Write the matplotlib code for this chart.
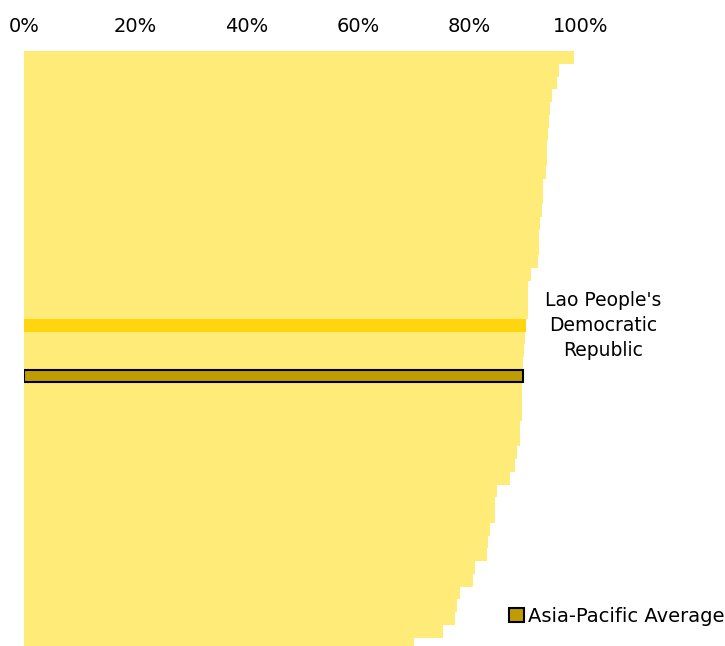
import matplotlib.pyplot as plt
from matplotlib.patches import Patch

# share per economy (%), sorted high to low, Asia-Pacific average included
shares = [98.8, 96.1, 95.7, 94.8, 94.6, 94.3, 94.1, 94.0, 94.0, 93.8,
          93.3, 93.2, 93.1, 92.7, 92.6, 92.5, 92.4, 91.1, 90.6, 90.6,
          90.5, 90.2, 90.0, 89.8, 89.7, 89.6, 89.5, 89.4, 89.4, 89.2,
          89.2, 88.5, 88.2, 87.3, 85.0, 84.7, 84.6, 83.8, 83.3, 83.1,
          81.0, 80.7, 78.3, 77.7, 77.5, 75.2, 70.0]
lao_idx = 21
avg_idx = 25
lao_label = "Lao People's\nDemocratic\nRepublic"
avg_label = "Asia-Pacific Average"
xticks = [0, 20, 40, 60, 80, 100]

base_col = '#FFEC78'
lao_col = '#FFD50F'
avg_col = '#BF9C00'

plt.rcParams['font.family'] = ['DejaVu Sans']

fig = plt.figure(figsize=(7.25, 6.46), dpi=100)
ax = fig.add_axes([24.5 / 725, 0, 556 / 725, 595 / 646])

colors = [base_col] * len(shares)
colors[lao_idx] = lao_col
colors[avg_idx] = avg_col
ypos = list(range(len(shares)))
ax.barh(ypos, shares, height=1.0, color=colors, linewidth=0)
ax.barh(avg_idx, shares[avg_idx], height=0.95, color=avg_col,
        edgecolor='black', linewidth=1.5)

ax.set_xlim(0, 100)
ax.set_ylim(-0.5 + 595 / 12.75, -0.5)
ax.xaxis.tick_top()
ax.set_xticks(xticks)
ax.set_xticklabels([f'{t}%' for t in xticks], fontsize=14)
ax.tick_params(axis='x', length=0, pad=11)
ax.set_yticks([])
for s in ax.spines.values():
    s.set_visible(False)

ax.text(104, lao_idx, lao_label, ha='center', va='center', fontsize=13.5,
        linespacing=1.4, clip_on=False)

handle = Patch(facecolor=avg_col, edgecolor='black', linewidth=1.5)
fig.legend(handles=[handle], labels=[avg_label], loc='center right',
           bbox_to_anchor=(1.0, 1 - 616 / 646), frameon=False, fontsize=14,
           handlelength=0.75, handleheight=0.75, handletextpad=0.2, borderpad=0,
           borderaxespad=0.05)

fig.savefig('out.png', dpi=100)
